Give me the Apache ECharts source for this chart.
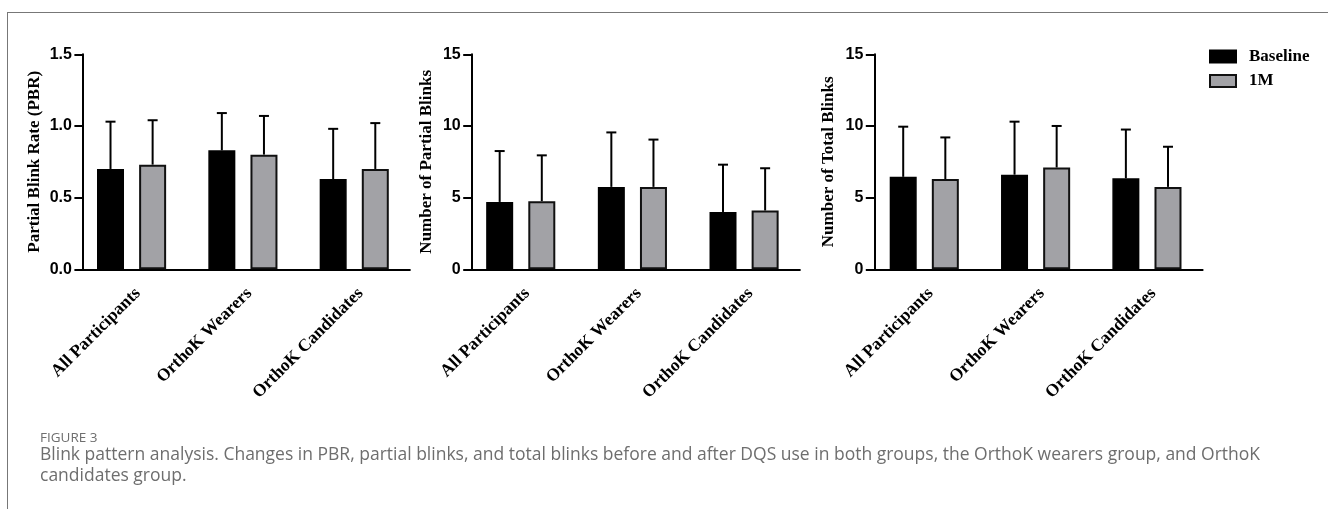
<!DOCTYPE html>
<html>

<head>
    <meta charset="utf-8">
    <title>Blink pattern analysis</title>
    <script src="https://cdn.jsdelivr.net/npm/echarts@6/dist/echarts.min.js"></script>
    <style>
        body { margin: 0; background: #fff; }
        #frame { position: absolute; left: 7px; top: 12px; width: 1400px; height: 600px;
                 border-left: 1px solid #777; border-top: 1px solid #777; }
        #chart { position: absolute; left: 0; top: 0; width: 1328px; height: 509px; }
        .cap { position: absolute; left: 40px; font-family: "Open Sans", sans-serif; color: #6e6e6e; white-space: nowrap; }
        #figno { top: 431px; font-size: 13.5px; line-height: 13.5px; }
        #figtext { top: 443px; font-size: 17.5px; line-height: 21px; }
    </style>
</head>

<body>
    <div id="frame"></div>
    <div id="chart"></div>
    <div class="cap" id="figno">FIGURE 3</div>
    <div class="cap" id="figtext">Blink pattern analysis. Changes in PBR, partial blinks, and total blinks before and after DQS use in both groups, the OrthoK wearers group, and OrthoK<br>candidates group.</div>

    <script type="text/javascript">
        // data (mean and SD)
        var groups = ['All Participants', 'OrthoK Wearers', 'OrthoK Candidates'];

        var pbrBaseline = [0.70, 0.83, 0.63];
        var pbrBaselineSd = [0.33, 0.26, 0.35];
        var pbr1M = [0.73, 0.80, 0.70];
        var pbr1MSd = [0.31, 0.27, 0.32];

        var partialBaseline = [4.7, 5.75, 4.0];
        var partialBaselineSd = [3.55, 3.8, 3.3];
        var partial1M = [4.75, 5.75, 4.1];
        var partial1MSd = [3.2, 3.3, 2.95];

        var totalBaseline = [6.45, 6.6, 6.35];
        var totalBaselineSd = [3.5, 3.7, 3.4];
        var total1M = [6.3, 7.1, 5.75];
        var total1MSd = [2.9, 2.9, 2.8];

        var yNames = ['Partial Blink Rate (PBR)', 'Number of Partial Blinks', 'Number of Total Blinks'];
        var yMax = [1.5, 15, 15];
        var yStep = [0.5, 5, 5];
        var yDecimals = [1, 0, 0];

        var panels = [
            { base: pbrBaseline, baseSd: pbrBaselineSd, after: pbr1M, afterSd: pbr1MSd },
            { base: partialBaseline, baseSd: partialBaselineSd, after: partial1M, afterSd: partial1MSd },
            { base: totalBaseline, baseSd: totalBaselineSd, after: total1M, afterSd: total1MSd }
        ];

        // layout
        var gridLeft = [75.9, 464.9, 868.6];
        var gridWidth = [334, 335, 334];
        var yOffset = [-7, -6.8, -5.7];
        var nameGap = [40, 37, 37];
        var BAR_W = 27;
        var BAR_GAP = 0.56;
        var shift = BAR_W * (1 + BAR_GAP) / 2;
        var GREY = '#a2a2a6';

        var serif = '"Liberation Serif", "Times New Roman", serif';
        var sans = '"Liberation Sans", Arial, sans-serif';

        function errorSeries(i, name, means, sds, dir) {
            return {
                type: 'custom',
                name: name,
                xAxisIndex: i,
                yAxisIndex: i,
                z: 1,
                data: means.map(function (m, k) { return [k, m, sds[k]]; }),
                renderItem: function (params, api) {
                    var lo = api.coord([api.value(0), api.value(1)]);
                    var hi = api.coord([api.value(0), api.value(1) + api.value(2)]);
                    var x = lo[0] + dir * shift;
                    var st = { stroke: '#000', lineWidth: 2 };
                    return {
                        type: 'group',
                        children: [
                            { type: 'line', shape: { x1: x, y1: lo[1], x2: x, y2: hi[1] }, style: st },
                            { type: 'line', shape: { x1: x - 5, y1: hi[1], x2: x + 5, y2: hi[1] }, style: st }
                        ]
                    };
                }
            };
        }

        var grids = [], xAxes = [], yAxes = [], series = [];
        panels.forEach(function (p, i) {
            grids.push({ left: gridLeft[i], width: gridWidth[i], top: 54.3, height: 215 });
            xAxes.push({
                type: 'category', gridIndex: i, data: groups,
                axisLine: { lineStyle: { color: '#000', width: 2 } },
                axisTick: { alignWithLabel: true, length: 8, lineStyle: { color: '#000', width: 2 } },
                axisLabel: {
                    rotate: 45, margin: 15, interval: 0, color: '#000', verticalAlign: 'top',
                    fontFamily: serif, fontWeight: 'bold', fontSize: 17.5
                }
            });
            yAxes.push({
                type: 'value', gridIndex: i, min: 0, max: yMax[i], interval: yStep[i],
                offset: yOffset[i],
                name: yNames[i], nameLocation: 'middle', nameGap: nameGap[i],
                nameTextStyle: { fontFamily: serif, fontWeight: 'bold', fontSize: 17, color: '#000' },
                axisLine: { show: true, lineStyle: { color: '#000', width: 2 } },
                axisTick: { show: true, length: 8.5, lineStyle: { color: '#000', width: 2 } },
                splitLine: { show: false },
                axisLabel: {
                    margin: 11, color: '#000', fontFamily: sans, fontWeight: 'bold', fontSize: 16,
                    formatter: (function (d) { return function (v) { return v.toFixed(d); }; })(yDecimals[i])
                }
            });
            series.push({
                type: 'bar', name: 'Baseline', xAxisIndex: i, yAxisIndex: i, data: p.base,
                barWidth: BAR_W, barGap: (BAR_GAP * 100) + '%',
                itemStyle: { color: '#000', borderColor: '#000', borderWidth: 1.5 }
            });
            series.push({
                type: 'bar', name: '1M', xAxisIndex: i, yAxisIndex: i, data: p.after,
                barWidth: BAR_W, barGap: (BAR_GAP * 100) + '%',
                itemStyle: { color: GREY, borderColor: '#111', borderWidth: 2 }
            });
            series.push(errorSeries(i, 'Baseline SD', p.base, p.baseSd, -1));
            series.push(errorSeries(i, '1M SD', p.after, p.afterSd, 1));
        });

        var chart = echarts.init(document.getElementById('chart'), null, { renderer: 'canvas' });
        chart.setOption({
            animation: false,
            legend: {
                data: ['Baseline', '1M'], orient: 'vertical', left: 1204, top: 43,
                itemWidth: 26, itemHeight: 12, itemGap: 7.5, icon: 'rect',
                textStyle: { fontFamily: serif, fontWeight: 'bold', fontSize: 17, color: '#000', lineHeight: 16, padding: [0, 0, 0, 8] }
            },
            grid: grids,
            xAxis: xAxes,
            yAxis: yAxes,
            series: series
        });
    </script>
</body>

</html>
